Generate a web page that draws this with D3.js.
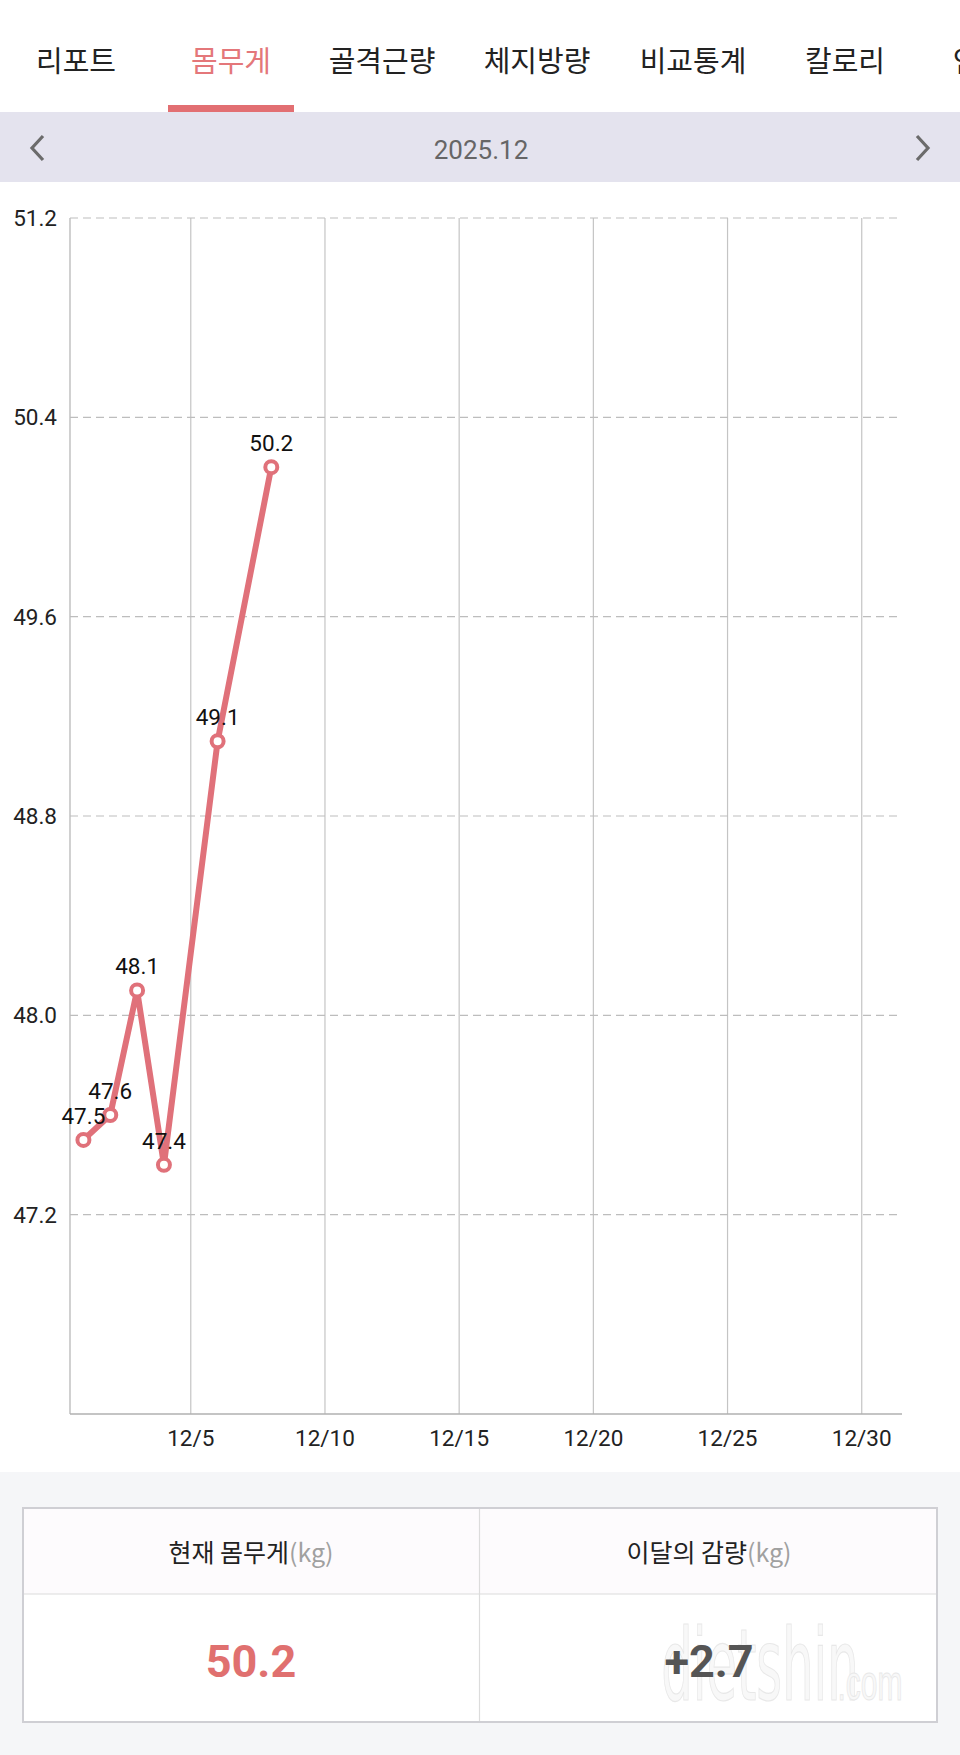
<!DOCTYPE html>
<html><head><meta charset="utf-8">
<script src="https://cdn.jsdelivr.net/npm/d3@7/dist/d3.min.js"></script>
<style>
html,body{margin:0;padding:0;background:#fff;}
svg{display:block;}
</style></head>
<body>
<script>
// ---- data ----
const tabs = ["리포트","몸무게","골격근량","체지방량","비교통계","칼로리","인"];
const tabCenters = [76, 231, 382, 537, 693, 845, 966];
const activeTab = "몸무게";
const monthLabel = "2025.12";
const days = [1, 2, 3, 4, 6, 8];
const weights = [47.5, 47.6, 48.1, 47.4, 49.1, 50.2];
const yTicks = [47.2, 48.0, 48.8, 49.6, 50.4, 51.2];
const xTicks = [5, 10, 15, 20, 25, 30];
const xTickLabels = ["12/5","12/10","12/15","12/20","12/25","12/30"];
const summaryHeaders = ["현재 몸무게", "이달의 감량"];
const summaryUnit = "(kg)";
const summaryValues = ["50.2", "+2.7"];

const W = 960, H = 1755;
const accent = "#e0717a";
const svg = d3.select("body").append("svg").attr("width", W).attr("height", H);
const KR = "'Noto Sans CJK KR','Noto Sans',sans-serif";
const NUM = "Roboto,'Noto Sans',sans-serif";

// backgrounds
svg.append("rect").attr("x",0).attr("y",0).attr("width",W).attr("height",H).attr("fill","#f5f6f8");
svg.append("rect").attr("x",0).attr("y",0).attr("width",W).attr("height",1472).attr("fill","#fff");

// tabs
svg.selectAll("text.tab").data(tabs).join("text")
  .attr("class","tab")
  .attr("x",(d,i)=>tabCenters[i])
  .attr("y",72)
  .attr("text-anchor","middle")
  .attr("font-family",KR)
  .attr("font-size",29)
  .attr("fill",d=>d===activeTab? "#e4777a" : "#222")
  .text(d=>d);
const ai = tabs.indexOf(activeTab);
svg.append("rect").attr("x",tabCenters[ai]-63).attr("y",105).attr("width",126).attr("height",7).attr("fill","#e26f72");

// month band
svg.append("rect").attr("x",0).attr("y",112).attr("width",W).attr("height",70).attr("fill","#e4e3ee");
svg.append("text").attr("x",481).attr("y",159).attr("text-anchor","middle")
  .attr("font-family",NUM).attr("font-size",26).attr("fill","#666").text(monthLabel);
svg.append("path").attr("d","M43,136 L32,148 L43,160").attr("fill","none").attr("stroke","#6b6b6b").attr("stroke-width",3.2);
svg.append("path").attr("d","M917,136 L928,148 L917,160").attr("fill","none").attr("stroke","#6b6b6b").attr("stroke-width",3.2);

// chart scales
const x = d3.scaleLinear().domain([0.5, 31.5]).range([70, 902]);
const y = d3.scaleLinear().domain([46.4, 51.2]).range([1414, 218]);

const g = svg.append("g");
// vertical grid
g.selectAll("line.vg").data(xTicks).join("line")
  .attr("x1",d=>x(d)).attr("x2",d=>x(d)).attr("y1",y(51.2)).attr("y2",y(46.4))
  .attr("stroke","#c4c4c4").attr("stroke-width",1.2);
// horizontal dashed grid
g.selectAll("line.hg").data(yTicks).join("line")
  .attr("x1",x(0.5)).attr("x2",x(31.5)).attr("y1",d=>y(d)).attr("y2",d=>y(d))
  .attr("stroke","#bdbdbd").attr("stroke-width",1.2).attr("stroke-dasharray","8,5");
// left axis & bottom axis
g.append("line").attr("x1",x(0.5)).attr("x2",x(0.5)).attr("y1",y(51.2)).attr("y2",y(46.4))
  .attr("stroke","#bdbdbd").attr("stroke-width",1.4);
g.append("line").attr("x1",x(0.5)).attr("x2",x(31.5)).attr("y1",y(46.4)).attr("y2",y(46.4))
  .attr("stroke","#b0b0b0").attr("stroke-width",1.6);

// y labels
g.selectAll("text.yl").data(yTicks).join("text")
  .attr("x",57).attr("y",d=>y(d)+8).attr("text-anchor","end")
  .attr("font-family",NUM).attr("font-size",22.5).attr("fill","#222")
  .text(d=>d.toFixed(1));
// x labels
g.selectAll("text.xl").data(xTicks).join("text")
  .attr("x",d=>x(d)).attr("y",1446).attr("text-anchor","middle")
  .attr("font-family",NUM).attr("font-size",22.5).attr("fill","#222")
  .text((d,i)=>xTickLabels[i]);

// line
const pts = days.map((d,i)=>({d, v: weights[i]}));
g.append("path").datum(pts)
  .attr("d", d3.line().x(p=>x(p.d)).y(p=>y(p.v)))
  .attr("fill","none").attr("stroke",accent).attr("stroke-width",6)
  .attr("stroke-linejoin","round").attr("stroke-linecap","round");
g.selectAll("circle.pt").data(pts).join("circle")
  .attr("cx",p=>x(p.d)).attr("cy",p=>y(p.v)).attr("r",6)
  .attr("fill","#fff").attr("stroke",accent).attr("stroke-width",4);
g.selectAll("text.pl").data(pts).join("text")
  .attr("x",p=>x(p.d)).attr("y",p=>y(p.v)-16).attr("text-anchor","middle")
  .attr("font-family",NUM).attr("font-size",22.5).attr("fill","#111")
  .text(p=>p.v.toFixed(1));

// summary table
const tx0 = 23, tx1 = 937, ty0 = 1508, tyMid = 1594, ty1 = 1722, txMid = 479.5;
svg.append("rect").attr("x",tx0).attr("y",ty0).attr("width",tx1-tx0).attr("height",tyMid-ty0).attr("fill","#fdfbfd");
svg.append("rect").attr("x",tx0).attr("y",tyMid).attr("width",tx1-tx0).attr("height",ty1-tyMid).attr("fill","#fff");
// watermark (faint)
svg.append("text").attr("x",760).attr("y",1700).attr("text-anchor","middle")
  .attr("font-family","'Liberation Sans Narrow','DejaVu Sans Condensed',sans-serif").attr("font-size",100)
  .attr("fill","#f8f8f8").attr("stroke","#e8e8e8").attr("stroke-width",1.2)
  .attr("transform","translate(760,1700) scale(0.55,1) translate(-760,-1700)")
  .text("dietshin");
svg.append("text").attr("x",870).attr("y",1700).attr("text-anchor","middle")
  .attr("font-family","'Liberation Sans Narrow',sans-serif").attr("font-size",50)
  .attr("fill","#f8f8f8").attr("stroke","#e8e8e8").attr("stroke-width",1)
  .attr("transform","translate(870,1700) scale(0.6,1) translate(-870,-1700)")
  .text(".com");

svg.append("line").attr("x1",tx0).attr("x2",tx1).attr("y1",tyMid).attr("y2",tyMid).attr("stroke","#dcdcdc").attr("stroke-width",1.2);
svg.append("line").attr("x1",txMid).attr("x2",txMid).attr("y1",ty0).attr("y2",ty1).attr("stroke","#dcdcdc").attr("stroke-width",1.2);
svg.append("rect").attr("x",tx0).attr("y",ty0).attr("width",tx1-tx0).attr("height",ty1-ty0)
  .attr("fill","none").attr("stroke","#cfcfd4").attr("stroke-width",2);

const colCenters = [251, 709];
summaryHeaders.forEach((h,i)=>{
  const t = svg.append("text").attr("x",colCenters[i]).attr("y",1562).attr("text-anchor","middle")
    .attr("font-family",KR).attr("font-size",25).attr("fill","#222");
  t.append("tspan").text(h);
  t.append("tspan").attr("fill","#a0a0a0").text(summaryUnit);
});
svg.append("text").attr("x",colCenters[0]).attr("y",1677).attr("text-anchor","middle")
  .attr("font-family",NUM).attr("font-weight",700).attr("font-size",45).attr("fill","#e0706f").text(summaryValues[0]);
svg.append("text").attr("x",colCenters[1]).attr("y",1677).attr("text-anchor","middle")
  .attr("font-family",NUM).attr("font-weight",700).attr("font-size",45).attr("fill","#555").text(summaryValues[1]);
</script>
</body></html>
